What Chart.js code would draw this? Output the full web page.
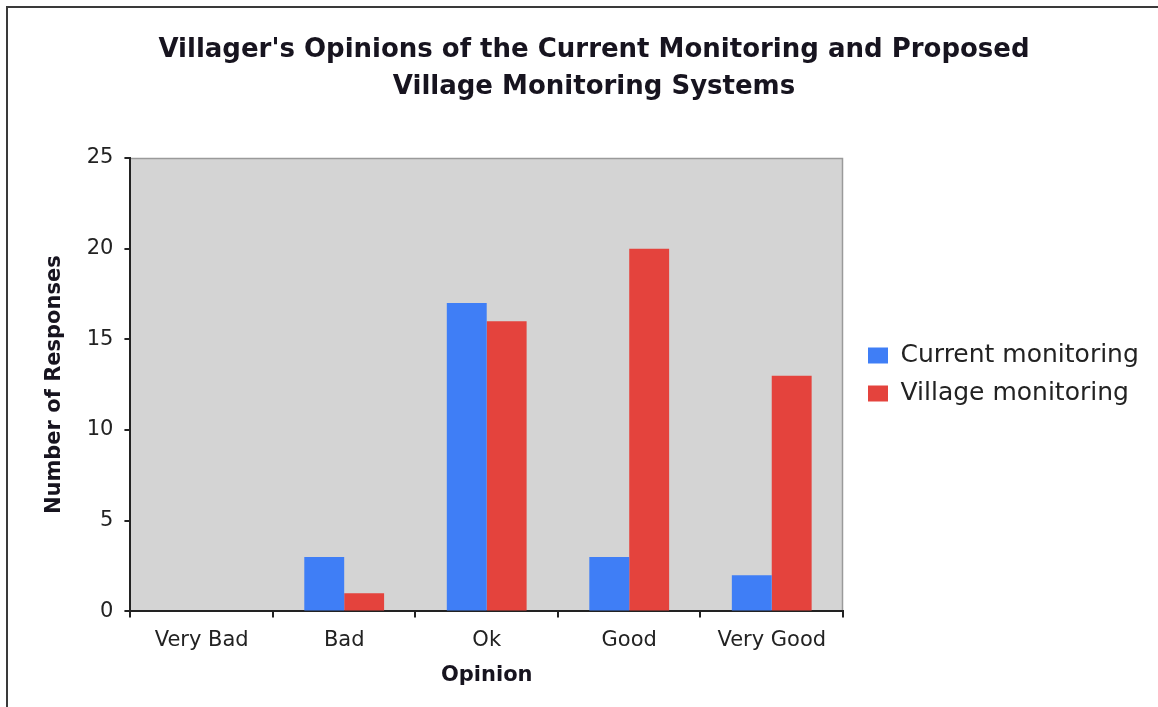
<!DOCTYPE html>
<html>
<head>
<meta charset="utf-8">
<script src="https://cdn.jsdelivr.net/npm/chart.js@4"></script>
<style>
  html, body { margin: 0; padding: 0; background: #fff; overflow: hidden; }
  #wrap { position: relative; width: 1158px; height: 707px; }
  #frame { position: absolute; left: 6px; top: 6px; width: 1200px; height: 800px; border: 2px solid #3a3a3a; }
  canvas { position: absolute; left: 0; top: 0; }
</style>
</head>
<body>
<div id="wrap">
  <div id="frame"></div>
  <canvas id="chart" width="1158" height="707"></canvas>
</div>
<script>
const opinions = ['Very Bad', 'Bad', 'Ok', 'Good', 'Very Good'];
const currentMonitoring = [0, 3, 17, 3, 2];
const villageMonitoring = [0, 1, 16, 20, 13];
const yTicks = [0, 5, 10, 15, 20, 25];

// grey plot background with a thin rim on top and right
const plotBackground = {
  id: 'plotBackground',
  beforeDraw(chart) {
    const { ctx, chartArea: a } = chart;
    ctx.save();
    ctx.fillStyle = '#d4d4d4';
    ctx.fillRect(a.left, a.top, a.right - a.left, a.bottom - a.top);
    ctx.strokeStyle = '#9a9a9a';
    ctx.lineWidth = 1.5;
    ctx.beginPath();
    ctx.moveTo(a.left, a.top + 0.5);
    ctx.lineTo(a.right - 0.5, a.top + 0.5);
    ctx.lineTo(a.right - 0.5, a.bottom);
    ctx.stroke();
    ctx.restore();
  }
};

// the built-in legend is capped at a quarter of the canvas width;
// give it a fixed column and park the items beside the middle of the plot
const LEGEND_WIDTH = 315;
const legendPlacement = {
  id: 'legendPlacement',
  beforeLayout(chart) {
    const legend = chart.legend;
    if (!legend || legend._fixedWidth) return;
    const fit = legend.fit.bind(legend);
    legend.fit = () => { fit(); legend.width = LEGEND_WIDTH; };
    legend._fixedWidth = true;
  },
  afterLayout(chart) {
    const legend = chart.legend;
    legend.left += 12;
    legend.right += 12;
    legend.top = 330;
    legend.bottom = 440;
  }
};

const sans = 'DejaVu Sans, Verdana, sans-serif';
const tickFont = { family: sans, size: 21 };
const axisTitleFont = { family: sans, size: 21, weight: 'bold' };

new Chart(document.getElementById('chart'), {
  type: 'bar',
  data: {
    labels: opinions,
    datasets: [
      { label: 'Current monitoring', data: currentMonitoring, backgroundColor: '#3f7ef6' },
      { label: 'Village monitoring', data: villageMonitoring, backgroundColor: '#e4433d' }
    ]
  },
  options: {
    responsive: false,
    animation: false,
    layout: { padding: { left: 30, right: 0, top: 20, bottom: 15 } },
    datasets: { bar: { barPercentage: 1, categoryPercentage: 0.56 } },
    plugins: {
      title: {
        display: true,
        text: ["Villager's Opinions of the Current Monitoring and Proposed", 'Village Monitoring Systems'],
        color: '#17141f',
        font: { family: sans, size: 26, weight: 'bold', lineHeight: 1.423 },
        padding: { top: 11.5, bottom: 52.5 }
      },
      legend: {
        position: 'right',
        align: 'start',
        labels: {
          boxWidth: 20,
          boxHeight: 16,
          padding: 13,
          color: '#222',
          font: { family: sans, size: 25 }
        }
      },
      tooltip: { enabled: false }
    },
    scales: {
      x: {
        grid: { drawOnChartArea: false, drawTicks: true, tickLength: 6, color: '#222', lineWidth: 2 },
        border: { color: '#222', width: 2 },
        ticks: { color: '#222', font: tickFont, padding: 10.4 },
        title: { display: true, text: 'Opinion', color: '#17141f', font: axisTitleFont, padding: { top: 0, bottom: 3.4 } }
      },
      y: {
        min: 0,
        max: 25,
        afterBuildTicks(scale) { scale.ticks = yTicks.map(v => ({ value: v })); },
        grid: { drawOnChartArea: false, drawTicks: true, tickLength: 6, color: '#222', lineWidth: 2 },
        border: { color: '#222', width: 2 },
        ticks: { color: '#222', font: tickFont, padding: 11 },
        title: { display: true, text: 'Number of Responses', color: '#17141f', font: axisTitleFont, padding: { top: 12, bottom: 8.5 } }
      }
    }
  },
  plugins: [plotBackground, legendPlacement]
});
</script>
</body>
</html>
